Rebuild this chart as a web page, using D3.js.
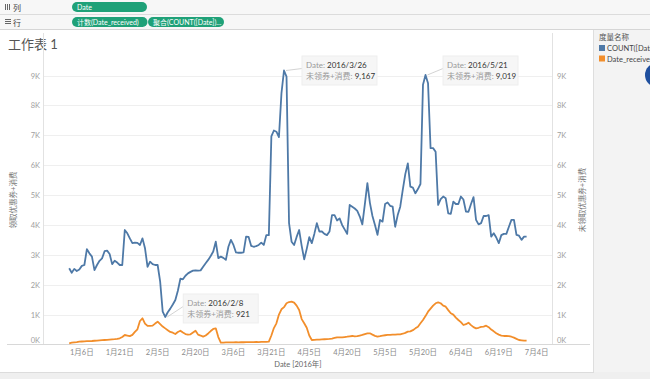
<!DOCTYPE html>
<html><head><meta charset="utf-8">
<script src="https://cdn.jsdelivr.net/npm/d3@7"></script>
<style>
body{margin:0;background:#fff;}
svg{display:block;font-family:Lato,"Noto Sans CJK SC","Noto Sans",sans-serif;}
</style>
</head><body>
<svg id="c" width="650" height="379"></svg>
<script>
// ---------- data ----------
const startDate = "2016-01-01"; // first day of the daily series
const countDate = [
2550,2400,2530,2460,2510,2630,2660,3190,3050,2940,
2490,2660,2800,2880,3120,3140,3030,2690,2800,2740,
2660,2660,3830,3720,3550,3390,3410,3400,3330,3550,
3220,2600,2770,2690,2660,2660,2100,1100,921,1080,
1200,1340,1490,1800,2200,2180,2300,2380,2430,2470,
2480,2470,2480,2600,2720,2830,2960,3110,3440,2890,
2940,2900,2830,3270,3500,3330,3080,3070,3070,3080,
3610,3600,3300,3270,3290,3330,3410,3330,3660,3660,
6960,7160,7120,6940,8410,9167,8960,4060,3440,3330,
3600,3830,3300,2850,3200,3590,3390,3700,4060,3780,
3780,3700,3660,3780,4330,4330,4150,4220,4000,3850,
3700,4670,4610,4550,4470,4280,4020,4700,5400,4740,
4300,4000,3670,4170,4110,4700,4750,4640,4610,3940,
4330,4610,5170,5700,6060,5280,5250,5060,5200,5370,
8690,9019,8740,6570,6570,6450,4670,4860,4950,4890,
4390,4370,4780,4700,4700,4950,4850,4450,4440,4700,
4930,4170,4020,4060,4300,4300,4330,3610,3720,3580,
3390,3660,3700,3700,3940,4170,4170,3670,3640,3500,
3610,3610];
const dateReceived = [
40,60,70,80,94,100,105,110,112,117,
125,130,140,145,150,155,165,174,180,190,
207,250,318,300,280,320,420,508,786,877,
700,620,620,630,700,763,680,600,540,480,
420,395,351,420,462,400,351,330,340,400,
462,330,300,262,300,370,450,520,540,250,
60,65,70,68,72,70,75,74,78,76,
80,78,82,80,84,82,86,88,90,94,
300,550,709,1000,1178,1250,1380,1420,1433,1400,
1300,1155,850,709,560,300,150,155,160,165,
170,175,180,185,200,220,240,235,240,250,
260,275,285,270,280,300,320,350,374,374,
330,290,262,280,300,310,320,320,330,330,
340,340,360,390,430,440,480,540,596,709,
820,950,1098,1200,1300,1379,1412,1380,1300,1265,
1150,1044,1000,900,820,750,652,680,730,650,
580,540,560,590,600,630,580,500,440,374,
330,300,285,285,280,260,230,190,150,140,
130,128];
const yTicks = [0,1000,2000,3000,4000,5000,6000,7000,8000,9000];
const xTickDates = ["2016-01-06","2016-01-21","2016-02-05","2016-02-20","2016-03-06","2016-03-21","2016-04-05","2016-04-20","2016-05-05","2016-05-20","2016-06-04","2016-06-19","2016-07-04"];
const xTickLabels = ["1月6日","1月21日","2月5日","2月20日","3月6日","3月21日","4月5日","4月20日","5月5日","5月20日","6月4日","6月19日","7月4日"];
const annotDates = ["2016-03-26","2016-05-21","2016-02-08"];
const annotLabels = ["2016/3/26","2016/5/21","2016/2/8"];
const annotValues = [9167,9019,921];
const seriesNames = ["COUNT([Date])","Date_received"];
const seriesColors = ["#4e79a7","#f28e2b"];

// ---------- setup ----------
const parse = d3.timeParse("%Y-%m-%d");
const t0 = parse(startDate);
const svg = d3.select("#c");
const x = d3.scaleTime().domain([t0, parse("2016-07-04")]).range([69.2, 536.7]);
const y = d3.scaleLinear().domain([0, 9000]).range([344.5, 75.5]);
const paneL = 43, paneR = 552, paneT = 33, paneB = 344.5;

const blue = countDate.map((v,i)=>({d:d3.timeDay.offset(t0,i), v}));
const orange = dateReceived.map((v,i)=>({d:d3.timeDay.offset(t0,i), v}));

// background
svg.append("rect").attr("width",650).attr("height",379).attr("fill","#fff");

// shelves
svg.append("rect").attr("x",0).attr("y",0).attr("width",650).attr("height",30).attr("fill","#f7f7f7");
svg.append("line").attr("x1",0).attr("x2",650).attr("y1",14.5).attr("y2",14.5).attr("stroke","#dcdcdc");
svg.append("line").attr("x1",0).attr("x2",650).attr("y1",29.5).attr("y2",29.5).attr("stroke","#d6d6d6");
// icons
[0,1,2].forEach(k=>{
  svg.append("rect").attr("x",5+k*2).attr("y",4).attr("width",1).attr("height",6).attr("fill","#666");
  svg.append("rect").attr("x",5).attr("y",19+k*2).attr("width",6).attr("height",1).attr("fill","#666");
});
svg.append("text").attr("x",13).attr("y",10.5).attr("font-size",8).attr("fill","#444").text("列");
svg.append("text").attr("x",13).attr("y",25.5).attr("font-size",8).attr("fill","#444").text("行");
const pills = [
  {x:72,y:2,w:75,t:"Date"},
  {x:72,y:17,w:75.5,t:"计数(Date_received)"},
  {x:148,y:17,w:76,t:"聚合(COUNT([Date])..."}
];
pills.forEach(p=>{
  svg.append("rect").attr("x",p.x).attr("y",p.y).attr("width",p.w).attr("height",10).attr("rx",5).attr("fill","#1fa178");
  svg.append("text").attr("x",p.x+5).attr("y",p.y+7.8).attr("font-size",7).attr("fill","#fff").text(p.t);
});

// title
svg.append("text").attr("x",8).attr("y",49).attr("font-size",13).attr("fill","#555").text("工作表 1");

// right panel
svg.append("rect").attr("x",594).attr("y",30).attr("width",56).attr("height",349).attr("fill","#f3f3f3");
svg.append("line").attr("x1",593.5).attr("x2",593.5).attr("y1",30).attr("y2",372).attr("stroke","#dedede");
// bottom band
svg.append("rect").attr("x",0).attr("y",372).attr("width",650).attr("height",7).attr("fill","#efefef");
svg.append("line").attr("x1",0).attr("x2",594).attr("y1",372.5).attr("y2",372.5).attr("stroke","#dcdcdc");

// gridlines
svg.append("g").selectAll("line").data(yTicks.filter(v=>v>0)).join("line")
  .attr("x1",paneL).attr("x2",paneR).attr("y1",d=>Math.round(y(d))+0.5).attr("y2",d=>Math.round(y(d))+0.5)
  .attr("stroke","#efefef");

// axis lines
svg.append("line").attr("x1",paneL+0.5).attr("x2",paneL+0.5).attr("y1",paneT).attr("y2",paneB).attr("stroke","#e2e2e2");
svg.append("line").attr("x1",paneR+0.5).attr("x2",paneR+0.5).attr("y1",paneT).attr("y2",paneB).attr("stroke","#e2e2e2");
svg.append("line").attr("x1",7).attr("x2",590).attr("y1",paneB).attr("y2",paneB).attr("stroke","#d8d8d8");

// y tick labels
const fmtK = v=>(v/1000)+"K";
svg.append("g").selectAll("text").data(yTicks).join("text")
  .attr("x",40).attr("y",d=>Math.min(y(d),340)+3).attr("text-anchor","end")
  .attr("font-size",7.5).attr("fill","#a0a0a0").text(fmtK);
svg.append("g").selectAll("text").data(yTicks).join("text")
  .attr("x",557).attr("y",d=>Math.min(y(d),340)+3).attr("text-anchor","start")
  .attr("font-size",7.5).attr("fill","#a0a0a0").text(fmtK);

// x tick labels
svg.append("g").selectAll("text").data(xTickDates).join("text")
  .attr("x",d=>x(parse(d))).attr("y",355).attr("text-anchor","middle")
  .attr("font-size",7.5).attr("fill","#8a8a8a").text((d,i)=>xTickLabels[i]);
svg.append("text").attr("x",298).attr("y",367).attr("text-anchor","middle")
  .attr("font-size",7.5).attr("fill","#666").text("Date [2016年]");

// axis titles
svg.append("text").attr("transform","translate(16,200) rotate(-90)").attr("text-anchor","middle")
  .attr("font-size",7.5).attr("fill","#777").text("领取优惠券+消费");
svg.append("text").attr("transform","translate(585,200) rotate(-90)").attr("text-anchor","middle")
  .attr("font-size",7.5).attr("fill","#777").text("未领取优惠券+消费");

// lines
const line = d3.line().x(d=>x(d.d)).y(d=>y(d.v));
svg.append("path").datum(orange).attr("d",line).attr("fill","none").attr("stroke",seriesColors[1]).attr("stroke-width",1.8).attr("stroke-linejoin","round");
svg.append("path").datum(blue).attr("d",line).attr("fill","none").attr("stroke",seriesColors[0]).attr("stroke-width",1.8).attr("stroke-linejoin","round");

// annotations
const annotOffsets = [{dx:18,top:56},{dx:17.5,top:56},{dx:18,top:null,dy:-23}];
annotDates.forEach((ds,i)=>{
  const px = x(parse(ds)), py = y(annotValues[i]);
  const o = annotOffsets[i];
  const bx = px + o.dx, by = o.top!==null ? o.top : py + o.dy;
  const bw = 75, bh = 29;
  svg.append("line").attr("x1",px+2).attr("y1",py).attr("x2",bx).attr("y2",by+bh/2-2).attr("stroke","#c8c8c8").attr("stroke-width",0.8);
  svg.append("rect").attr("x",bx).attr("y",by).attr("width",bw).attr("height",bh).attr("fill","#f6f6f6").attr("stroke","#eeeeee");
  const t1 = svg.append("text").attr("x",bx+4).attr("y",by+12).attr("font-size",8);
  t1.append("tspan").attr("fill","#9a9a9a").text("Date: ");
  t1.append("tspan").attr("fill","#333").text(annotLabels[i]);
  const t2 = svg.append("text").attr("x",bx+4).attr("y",by+23).attr("font-size",8);
  t2.append("tspan").attr("fill","#9a9a9a").text("未领券+消费: ");
  t2.append("tspan").attr("fill","#333").text(d3.format(",")(annotValues[i]));
});

// legend
svg.append("text").attr("x",599).attr("y",40).attr("font-size",7.5).attr("fill","#555").text("度量名称");
seriesNames.forEach((n,i)=>{
  svg.append("rect").attr("x",599).attr("y",45+i*10.5).attr("width",6).attr("height",6).attr("fill",seriesColors[i]);
  svg.append("text").attr("x",607).attr("y",51+i*10.5).attr("font-size",7.5).attr("fill","#444").text(n);
});
svg.append("circle").attr("cx",657).attr("cy",75).attr("r",12).attr("fill","#1f4f9e");
</script>
</body></html>
